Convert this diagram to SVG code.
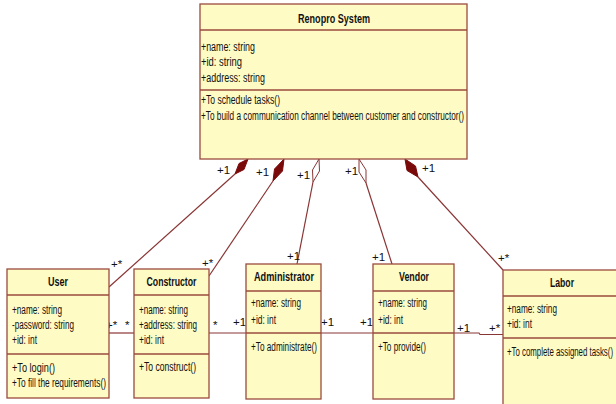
<svg xmlns="http://www.w3.org/2000/svg" width="616" height="404" viewBox="0 0 616 404">
<style>
.box{fill:#FFFBC4;stroke:#9A4A3C;stroke-width:1.3}
.div{stroke:#9A4A3C;stroke-width:1.3}
.t{font-family:"Liberation Sans",Arial,sans-serif;font-size:12.5px;fill:#111}
.b{font-family:"Liberation Sans",Arial,sans-serif;font-size:12.5px;font-weight:bold;fill:#111;text-anchor:middle}
.m{font-family:"Liberation Sans",Arial,sans-serif;font-size:11.5px;fill:#111}
.ln{stroke:#8A3535;stroke-width:1.2;fill:none}
.fd{fill:#7A0A0A;stroke:#7A0A0A;stroke-width:1}
.hd{fill:#fff;stroke:#8A3535;stroke-width:1}
</style>
<rect width="616" height="404" fill="#fff"/>
<g id="connectors">
<line class="ln" x1="109" y1="287" x2="235" y2="174"/>
<polygon class="fd" points="235,174 239,163.5 248,159 244,169.5"/>
<line class="ln" x1="209" y1="276" x2="273" y2="181"/>
<polygon class="fd" points="273,181 274.5,169 284,159 282.5,171"/>
<line class="ln" x1="297" y1="264" x2="313" y2="182"/>
<polygon class="hd" points="313,182 312.5,170 319,159 319.5,171"/>
<line class="ln" x1="392" y1="264" x2="366" y2="183"/>
<polygon class="hd" points="366,183 359,172 359,159 366,170"/>
<line class="ln" x1="503" y1="270" x2="418" y2="177"/>
<polygon class="fd" points="418,177 407,170.5 405,159 415.5,166"/>
<line class="ln" x1="109" y1="333" x2="134" y2="333"/>
<line class="ln" x1="209" y1="333" x2="246" y2="333"/>
<line class="ln" x1="321" y1="333" x2="373" y2="333"/>
<polyline class="ln" points="454,333 479,333 480,334.5 503,334.5"/>
<text class="m" x="217" y="174">+1</text>
<text class="m" x="256" y="176">+1</text>
<text class="m" x="297" y="179">+1</text>
<text class="m" x="345" y="175">+1</text>
<text class="m" x="422" y="172">+1</text>
<text class="m" x="111" y="268">+*</text>
<text class="m" x="202" y="267">+*</text>
<text class="m" x="287" y="260">+1</text>
<text class="m" x="372" y="261">+1</text>
<text class="m" x="498" y="262">+*</text>
<text class="m" x="106" y="329">+*</text>
<text class="m" x="125" y="329">*</text>
<text class="m" x="213" y="329">*</text>
<text class="m" x="233" y="326">+1</text>
<text class="m" x="321" y="326">+1</text>
<text class="m" x="360" y="326">+1</text>
<text class="m" x="457" y="332">+1</text>
<text class="m" x="489" y="332">+*</text>
</g>
<g id="renopro">
<rect class="box" x="200" y="4" width="267" height="155"/>
<line class="div" x1="200" y1="30" x2="467" y2="30"/>
<line class="div" x1="200" y1="90" x2="467" y2="90"/>
<text class="b" x="334" y="23" textLength="72" lengthAdjust="spacingAndGlyphs">Renopro System</text>
<text class="t" x="201" y="51" textLength="54" lengthAdjust="spacingAndGlyphs">+name: string</text>
<text class="t" x="201" y="66" textLength="41" lengthAdjust="spacingAndGlyphs">+id: string</text>
<text class="t" x="201" y="82" textLength="64" lengthAdjust="spacingAndGlyphs">+address: string</text>
<text class="t" x="201" y="104" textLength="79" lengthAdjust="spacingAndGlyphs">+To schedule tasks()</text>
<text class="t" x="201" y="120" textLength="263" lengthAdjust="spacingAndGlyphs">+To build a communication channel between customer and constructor()</text>
</g>
<g id="user">
<rect class="box" x="7" y="269" width="102" height="129"/>
<line class="div" x1="7" y1="295" x2="109" y2="295"/>
<line class="div" x1="7" y1="354" x2="109" y2="354"/>
<text class="b" x="58" y="286" textLength="20" lengthAdjust="spacingAndGlyphs">User</text>
<text class="t" x="12" y="314" textLength="50" lengthAdjust="spacingAndGlyphs">+name: string</text>
<text class="t" x="12" y="329" textLength="62" lengthAdjust="spacingAndGlyphs">-password: string</text>
<text class="t" x="12" y="344" textLength="25" lengthAdjust="spacingAndGlyphs">+id: int</text>
<text class="t" x="12" y="372" textLength="43" lengthAdjust="spacingAndGlyphs">+To login()</text>
<text class="t" x="12" y="387" textLength="94" lengthAdjust="spacingAndGlyphs">+To fill the requirements()</text>
</g>
<g id="constructor">
<rect class="box" x="134" y="269" width="75" height="129"/>
<line class="div" x1="134" y1="295" x2="209" y2="295"/>
<line class="div" x1="134" y1="354" x2="209" y2="354"/>
<text class="b" x="171.5" y="286" textLength="50" lengthAdjust="spacingAndGlyphs">Constructor</text>
<text class="t" x="139" y="314" textLength="49" lengthAdjust="spacingAndGlyphs">+name: string</text>
<text class="t" x="139" y="329" textLength="58" lengthAdjust="spacingAndGlyphs">+address: string</text>
<text class="t" x="139" y="344" textLength="25" lengthAdjust="spacingAndGlyphs">+id: int</text>
<text class="t" x="139" y="371" textLength="57" lengthAdjust="spacingAndGlyphs">+To construct()</text>
</g>
<g id="administrator">
<rect class="box" x="246" y="264" width="75" height="135"/>
<line class="div" x1="246" y1="291" x2="321" y2="291"/>
<line class="div" x1="246" y1="333" x2="321" y2="333"/>
<text class="b" x="284" y="281" textLength="60" lengthAdjust="spacingAndGlyphs">Administrator</text>
<text class="t" x="251" y="307" textLength="50" lengthAdjust="spacingAndGlyphs">+name: string</text>
<text class="t" x="251" y="324" textLength="25" lengthAdjust="spacingAndGlyphs">+id: int</text>
<text class="t" x="251" y="351" textLength="66" lengthAdjust="spacingAndGlyphs">+To administrate()</text>
</g>
<g id="vendor">
<rect class="box" x="373" y="264" width="81" height="135"/>
<line class="div" x1="373" y1="291" x2="454" y2="291"/>
<line class="div" x1="373" y1="333" x2="454" y2="333"/>
<text class="b" x="414" y="281" textLength="30" lengthAdjust="spacingAndGlyphs">Vendor</text>
<text class="t" x="378" y="307" textLength="49" lengthAdjust="spacingAndGlyphs">+name: string</text>
<text class="t" x="378" y="324" textLength="25" lengthAdjust="spacingAndGlyphs">+id: int</text>
<text class="t" x="378" y="351" textLength="48" lengthAdjust="spacingAndGlyphs">+To provide()</text>
</g>
<g id="labor">
<rect class="box" x="503" y="270" width="130" height="140"/>
<line class="div" x1="503" y1="296" x2="633" y2="296"/>
<line class="div" x1="503" y1="338" x2="633" y2="338"/>
<text class="b" x="562" y="287" textLength="24" lengthAdjust="spacingAndGlyphs">Labor</text>
<text class="t" x="507" y="313" textLength="50" lengthAdjust="spacingAndGlyphs">+name: string</text>
<text class="t" x="507" y="328" textLength="25" lengthAdjust="spacingAndGlyphs">+id: int</text>
<text class="t" x="507" y="356" textLength="106" lengthAdjust="spacingAndGlyphs">+To complete assigned tasks()</text>
</g>
</svg>
